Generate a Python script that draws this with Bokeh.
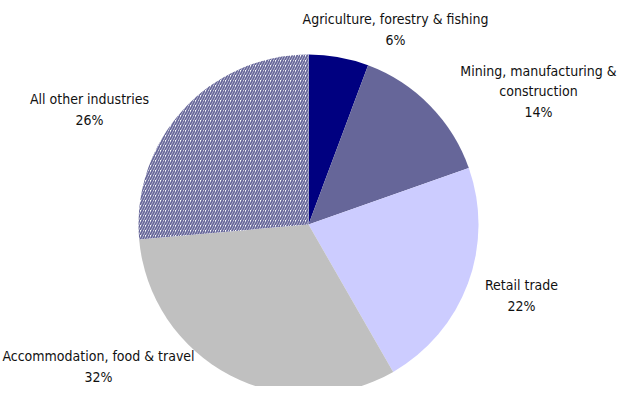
import math
from bokeh.plotting import figure
from bokeh.models import Range1d, ColumnDataSource
from bokeh.core.properties import value
from bokeh.embed import file_html
from bokeh.resources import INLINE

categories = ["Agriculture, forestry & fishing", "Mining, manufacturing &\nconstruction",
              "Retail trade", "Accommodation, food & travel", "All other industries"]
shares = [5.7, 13.9, 22.1, 31.9, 26.4]
colors = ["#000080", "#666699", "#CCCCFF", "#C0C0C0", "#FFFFFF"]

# layout (screen-pixel based coordinates, y upward)
W, H = 617, 386
cx, cy, R = 308, 402 - 224, 170
label_pos = [(395, 402 - 29), (538, 402 - 91), (521, 402 - 295), (98, 402 - 366), (89, 402 - 109)]

total = sum(shares)
starts, ends = [], []
acc = 0.0
for s in shares:
    a0 = acc / total * 2 * math.pi
    acc += s
    a1 = acc / total * 2 * math.pi
    starts.append(math.pi / 2 - a0)
    ends.append(math.pi / 2 - a1)

p = figure(width=W, height=H, output_backend="svg", toolbar_location=None,
           x_range=Range1d(0, W), y_range=Range1d(402 - H, 402),
           min_border=0)
p.axis.visible = False
p.grid.visible = False
p.outline_line_color = None
p.background_fill_color = "white"
p.border_fill_color = "white"

src = ColumnDataSource(dict(start=starts[:4], end=ends[:4], color=colors[:4]))
p.wedge(x=cx, y=cy, radius=R, start_angle="start", end_angle="end", direction="clock",
        fill_color="color", line_color=None, source=src)
p.wedge(x=cx, y=cy, radius=R, start_angle=starts[4], end_angle=ends[4], direction="clock",
        fill_color=colors[4], line_color=None, hatch_pattern="/", hatch_color="#666699",
        hatch_scale=5, hatch_weight=1.8)

labels = [f"{c}\n{round(s)}%" for c, s in zip(categories, shares)]
p.text(x=[lp[0] for lp in label_pos], y=[lp[1] for lp in label_pos], text=labels,
       text_align="center", text_baseline="middle", text_font=value("DejaVu Sans Condensed"),
       text_font_size="14px", text_color="#111111", text_line_height=1.3)

open("out.html", "w").write(file_html(p, INLINE))
